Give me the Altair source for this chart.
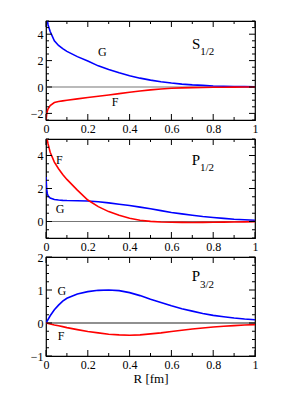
import altair as alt
import pandas as pd

# ---------------- data ----------------
R1 = [0.0, 0.003, 0.006, 0.01, 0.02, 0.04, 0.06, 0.08, 0.1, 0.15, 0.2, 0.25, 0.3, 0.35, 0.4, 0.45, 0.5,
      0.55, 0.6, 0.65, 0.7, 0.75, 0.8, 0.85, 0.9, 0.95, 1.0]
S_G = [6.5, 5.6, 5.1, 4.7, 4.2, 3.5, 3.15, 2.9, 2.7, 2.3, 1.97, 1.6, 1.33, 1.08, 0.85, 0.67, 0.52,
       0.4, 0.3, 0.22, 0.16, 0.12, 0.08, 0.06, 0.04, 0.03, 0.02]
S_F = [-2.6, -2.1, -1.85, -1.65, -1.4, -1.18, -1.1, -1.05, -1.0, -0.9, -0.8, -0.7, -0.6, -0.5, -0.4, -0.3, -0.22,
       -0.15, -0.1, -0.07, -0.05, -0.035, -0.02, -0.015, -0.01, -0.005, 0.0]

P1_G = [2.7, 2.0, 1.7, 1.55, 1.42, 1.33, 1.3, 1.28, 1.27, 1.26, 1.24, 1.2, 1.13, 1.05, 0.97, 0.87, 0.77,
        0.66, 0.55, 0.46, 0.38, 0.3, 0.24, 0.19, 0.14, 0.11, 0.08]
P1_F = [5.6, 5.2, 4.95, 4.7, 4.2, 3.6, 3.2, 2.85, 2.55, 1.9, 1.3, 0.9, 0.6, 0.38, 0.2, 0.08, 0.01,
        -0.03, -0.05, -0.055, -0.06, -0.055, -0.05, -0.04, -0.03, -0.02, -0.01]

R3 = [0.0, 0.02, 0.04, 0.06, 0.08, 0.1, 0.15, 0.2, 0.25, 0.3, 0.35, 0.4, 0.45, 0.5, 0.55, 0.6, 0.65,
      0.7, 0.75, 0.8, 0.85, 0.9, 0.95, 1.0]
P3_G = [0.0, 0.22, 0.4, 0.54, 0.66, 0.75, 0.88, 0.95, 0.99, 1.0, 0.98, 0.92, 0.83, 0.72, 0.62, 0.52, 0.43,
        0.36, 0.29, 0.23, 0.19, 0.15, 0.12, 0.1]
P3_F = [0.0, -0.03, -0.06, -0.085, -0.11, -0.14, -0.2, -0.26, -0.3, -0.34, -0.36, -0.37, -0.36, -0.33, -0.3, -0.26, -0.22,
        -0.18, -0.15, -0.12, -0.1, -0.08, -0.06, -0.05]

X_MAJOR = [0, 0.2, 0.4, 0.6, 0.8, 1]
X_MINOR = [0.1, 0.3, 0.5, 0.7, 0.9]

# panel label text: (text, R, value)
S_LABELS = [("G", 0.27, 2.35), ("F", 0.33, -1.46)]
S_TITLE = ("S", "1/2", 0.738, 2.9, 2.45)
P1_LABELS = [("F", 0.064, 3.5), ("G", 0.067, 0.52)]
P1_TITLE = ("P", "1/2", 0.737, 3.44, 3.06)
P3_LABELS = [("G", 0.076, 0.84), ("F", 0.072, -0.52)]
P3_TITLE = ("P", "3/2", 0.737, 1.26, 1.06)

W, H = 209, 99
FONT = "Liberation Serif"
MAJ, MIN = 6, 3


def frange(a, b, step):
    n = int(round((b - a) / step))
    return [round(a + i * step, 4) for i in range(n + 1)]


def panel(R, G, F, ydom, ymajor, yminor, labels, title, zero_color, last):
    df = pd.DataFrame({"R": R * 2, "v": G + F, "s": ["G"] * len(R) + ["F"] * len(R)})
    xs = alt.Scale(domain=[0, 1], nice=False, zero=False)
    ys = alt.Scale(domain=ydom, nice=False, zero=False)

    label_x = alt.Axis(
        values=X_MAJOR, ticks=False, domain=False, grid=False, labelPadding=3,
        labelExpr="datum.value == 0 ? '0' : datum.value == 1 ? '1' : format(datum.value, '.1f')",
        title="R [fm]" if last else None, titleFont=FONT, titleFontSize=13, titleFontWeight="normal",
        titlePadding=2, labelFlush=False,
    )
    label_y = alt.Axis(values=ymajor, ticks=False, domain=False, grid=False, labelPadding=3,
                       title=None, labelFlush=False, format="d")

    def X(field):
        return alt.X(field, scale=xs, axis=label_x)

    def Y(field):
        return alt.Y(field, scale=ys, axis=label_y)

    lines = alt.Chart(df).mark_line(strokeWidth=1.6, clip=True).encode(
        x=X("R:Q"), y=Y("v:Q"),
        color=alt.Color("s:N", scale=alt.Scale(domain=["G", "F"], range=["#0000ff", "#ff0000"]), legend=None),
    )

    def xticks(vals, size):
        d = alt.Chart(pd.DataFrame({"t": vals}))
        bot = d.mark_rule(color="black", strokeWidth=1).encode(
            x=X("t:Q"), y=alt.value(H), y2=alt.value(H - size))
        top = d.mark_rule(color="black", strokeWidth=1).encode(
            x=X("t:Q"), y=alt.value(0), y2=alt.value(size))
        return [bot, top]

    def yticks(vals, size):
        d = alt.Chart(pd.DataFrame({"t": vals}))
        left = d.mark_rule(color="black", strokeWidth=1).encode(
            y=Y("t:Q"), x=alt.value(0), x2=alt.value(size))
        right = d.mark_rule(color="black", strokeWidth=1).encode(
            y=Y("t:Q"), x=alt.value(W), x2=alt.value(W - size))
        return [left, right]

    ticks = xticks(X_MAJOR, MAJ) + xticks(X_MINOR, MIN) + yticks(ymajor, MAJ) + \
        yticks([v for v in yminor if v not in ymajor], MIN)

    zero = alt.Chart(pd.DataFrame({"y0": [0]})).mark_rule(color=zero_color, strokeWidth=1.2).encode(
        y=Y("y0:Q")
    )

    lab_df = pd.DataFrame({"t": [l[0] for l in labels], "x": [l[1] for l in labels], "y": [l[2] for l in labels]})
    lab = alt.Chart(lab_df).mark_text(font=FONT, fontSize=12, baseline="alphabetic", align="center",
                                      color="black").encode(x=X("x:Q"), y=Y("y:Q"), text="t:N")

    main_t, sub_t, tx, ty, sy = title
    t_df = pd.DataFrame({"t": [main_t], "x": [tx], "y": [ty]})
    s_df = pd.DataFrame({"t": [sub_t], "x": [tx], "y": [sy]})
    tmain = alt.Chart(t_df).mark_text(font=FONT, fontSize=15, baseline="alphabetic", align="right",
                                      color="black").encode(x=X("x:Q"), y=Y("y:Q"), text="t:N")
    tsub = alt.Chart(s_df).mark_text(font=FONT, fontSize=11, baseline="alphabetic", align="left",
                                     color="black").encode(x=X("x:Q"), y=Y("y:Q"), text="t:N")

    return alt.layer(zero, lines, *ticks, lab, tmain, tsub).properties(width=W, height=H)


p1 = panel(R1, S_G, S_F, [-2.5, 5], [-2, 0, 2, 4], frange(-2.5, 5, 0.5), S_LABELS, S_TITLE, "#777777", False)
p2 = panel(R1, P1_G, P1_F, [-1, 5], [0, 2, 4], frange(-1, 5, 0.5), P1_LABELS, P1_TITLE, "#777777", False)
p3 = panel(R3, P3_G, P3_F, [-1, 2], [-1, 0, 1, 2], frange(-1, 2, 0.25), P3_LABELS, P3_TITLE, "#222222", True)

chart = alt.vconcat(p1, p2, p3, spacing=19, bounds="flush").properties(
    padding={"left": 21, "top": 11, "right": 5, "bottom": 5}
).configure_view(stroke="black", strokeWidth=1.2).configure_axis(
    labelFont=FONT, labelFontSize=12, labelColor="black", titleFont=FONT, titleColor="black"
)

chart.save("out.html", embed_options={"renderer": "svg", "actions": False})
